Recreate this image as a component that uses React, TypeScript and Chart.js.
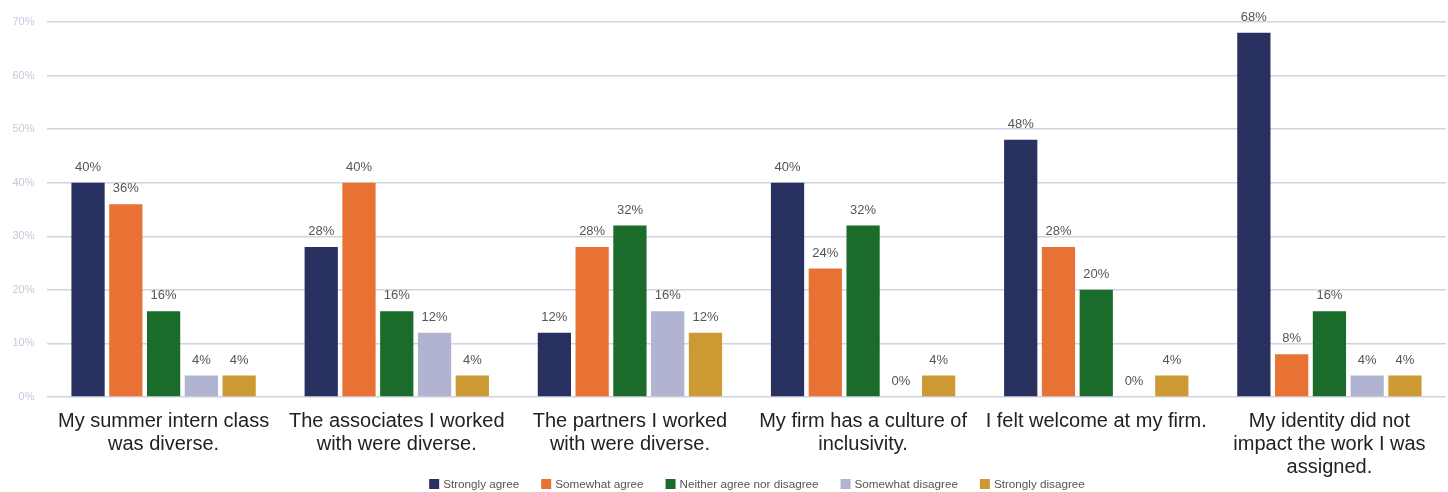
import React, { useEffect, useRef } from "react";
import { Chart, registerables } from "chart.js";

Chart.register(...registerables);

const categories: string[][] = [
  ["My summer intern class", "was diverse."],
  ["The associates I worked", "with were diverse."],
  ["The partners I worked", "with were diverse."],
  ["My firm has a culture of", "inclusivity."],
  ["I felt welcome at my firm."],
  ["My identity did not", "impact the work I was", "assigned."],
];

const seriesNames = [
  "Strongly agree",
  "Somewhat agree",
  "Neither agree nor disagree",
  "Somewhat disagree",
  "Strongly disagree",
];

const stronglyAgree = [40, 28, 12, 40, 48, 68];
const somewhatAgree = [36, 40, 28, 24, 28, 8];
const neither = [16, 16, 32, 32, 20, 16];
const somewhatDisagree = [4, 12, 16, 0, 0, 4];
const stronglyDisagree = [4, 4, 12, 4, 4, 4];

const seriesColors = ["#27305f", "#e87234", "#1b6b2a", "#b0b4d0", "#cc9933"];

const FONT = "'Liberation Sans', Arial, sans-serif";

const valueLabels = {
  id: "valueLabels",
  afterDatasetsDraw(chart: any) {
    const ctx = chart.ctx;
    ctx.save();
    ctx.font = "13px " + FONT;
    ctx.fillStyle = "#555555";
    ctx.textAlign = "center";
    ctx.textBaseline = "bottom";
    chart.data.datasets.forEach((ds: any, i: number) => {
      const meta = chart.getDatasetMeta(i);
      meta.data.forEach((bar: any, j: number) => {
        ctx.fillText(ds.data[j] + "%", bar.x, bar.y - 9);
      });
    });
    ctx.restore();
  },
};

const customLegend = {
  id: "customLegend",
  afterDraw(chart: any) {
    const ctx = chart.ctx;
    ctx.save();
    ctx.font = "11.7px " + FONT;
    ctx.textBaseline = "middle";
    const box = 10;
    const gapBoxText = 4;
    const gapItems = 22;
    const widths = chart.data.datasets.map(
      (ds: any) => box + gapBoxText + ctx.measureText(ds.label).width
    );
    const total = widths.reduce((a: number, b: number) => a + b, 0) + gapItems * (widths.length - 1);
    let x = 757 - total / 2;
    const y = 484;
    chart.data.datasets.forEach((ds: any, i: number) => {
      ctx.fillStyle = ds.backgroundColor;
      ctx.fillRect(x, y - box / 2, box, box);
      ctx.fillStyle = "#555555";
      ctx.textAlign = "left";
      ctx.fillText(ds.label, x + box + gapBoxText, y + 0.5);
      x += widths[i] + gapItems;
    });
    ctx.restore();
  },
};

export default function App() {
  const ref = useRef<HTMLCanvasElement>(null);
  useEffect(() => {
    const all = [stronglyAgree, somewhatAgree, neither, somewhatDisagree, stronglyDisagree];
    const chart = new Chart(ref.current!, {
      type: "bar",
      data: {
        labels: categories,
        datasets: all.map((d, i) => ({
          label: seriesNames[i],
          data: d,
          backgroundColor: seriesColors[i],
          categoryPercentage: 0.81,
          barPercentage: 0.88,
        })),
      },
      options: {
        animation: false,
        responsive: false,
        maintainAspectRatio: false,
        layout: { padding: { top: 22, right: 2, left: 0, bottom: 8 } },
        plugins: {
          legend: { display: false },
          tooltip: { enabled: false },
        },
        scales: {
          x: {
            grid: { display: false },
            border: { display: false },
            ticks: {
              color: "#222222",
              font: { size: 20, family: FONT, lineHeight: 1.15 },
              maxRotation: 0,
              autoSkip: false,
              padding: 5,
            },
          },
          y: {
            min: 0,
            max: 70,
            ticks: {
              stepSize: 10,
              callback: (v: any) => v + "%",
              color: "#c8c8dc",
              font: { size: 11, family: FONT },
              padding: 12.5,
            },
            grid: { color: "#d2d2e2", lineWidth: 1.5, drawTicks: false },
            border: { display: false },
          },
        },
      },
      plugins: [valueLabels, customLegend],
    });
    return () => chart.destroy();
  }, []);
  return (
    <div style={{ position: "fixed", left: 0, top: 0, width: 1448, height: 492, background: "#fff" }}>
      <canvas ref={ref} width={1448} height={492} />
    </div>
  );
}
